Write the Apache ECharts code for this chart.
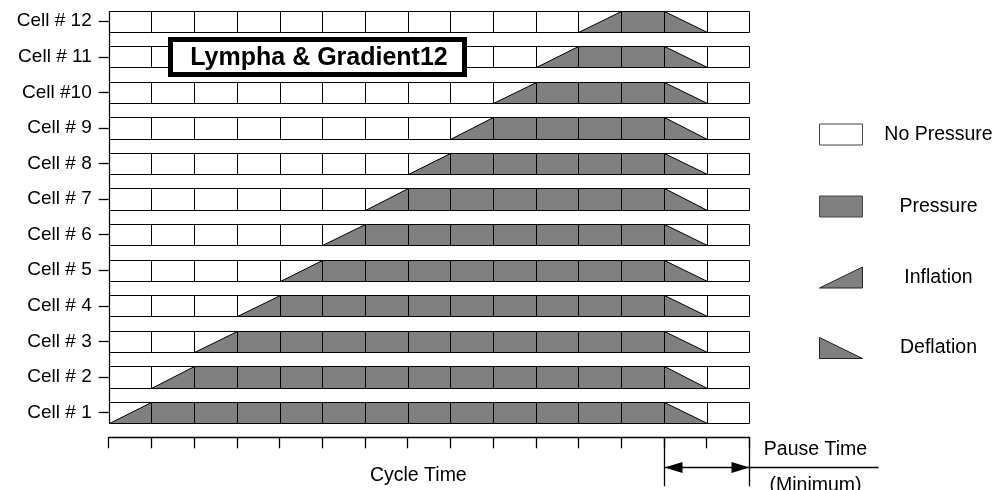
<!DOCTYPE html>
<html>
<head>
<meta charset="utf-8">
<script src="https://cdn.jsdelivr.net/npm/echarts@6/dist/echarts.min.js"></script>
<style>html,body{margin:0;padding:0;background:#fff}#c{width:997px;height:490px}</style>
</head>
<body>
<div id="c"></div>
<script>
// ---- data ----
const cells = ['Cell # 1','Cell # 2','Cell # 3','Cell # 4','Cell # 5','Cell # 6','Cell # 7','Cell # 8','Cell # 9','Cell #10','Cell # 11','Cell # 12'];
const slotCount = 15;                                     // time slots per row
const inflationSlot = [0,1,2,3,4,5,6,7,8,9,10,11];        // slot where each cell inflates
const deflationSlot = [13,13,13,13,13,13,13,13,13,13,13,13]; // slot where each cell deflates
const legendNames = ['No Pressure','Pressure','Inflation','Deflation'];
const titleText = 'Lympha & Gradient12';
const axisTexts = { cycle: 'Cycle Time', pause: 'Pause Time', min: '(Minimum)' };
const pauseStart = 13, pauseEnd = 15;

// states: 0 none, 1 pressure, 2 inflation, 3 deflation
const boxes = [];
for (let r = 0; r < cells.length; r++) {
  for (let c = 0; c < slotCount; c++) {
    let s = 0;
    if (c === inflationSlot[r]) s = 2;
    else if (c > inflationSlot[r] && c < deflationSlot[r]) s = 1;
    else if (c === deflationSlot[r]) s = 3;
    boxes.push([c, r, s]);
  }
}

const FONT = 'Liberation Sans, Arial, Helvetica, sans-serif';
const GRAY = '#808080';
const px = v => Math.round(v) + 0.5;

function renderBox(params, api) {
  const c = api.value(0), r = api.value(1), s = api.value(2);
  const a = api.coord([c, r]), b = api.coord([c + 1, r]);
  const h = api.size([0, 1])[1] * 0.6;
  const x0 = px(a[0]), x1 = px(b[0]);
  const y0 = px(a[1] - h / 2), y1 = px(a[1] + h / 2);
  const children = [{
    type: 'rect', shape: { x: x0, y: y0, width: x1 - x0, height: y1 - y0 },
    style: { fill: s === 1 ? GRAY : '#fff', stroke: null }
  }];
  if (s === 2) children.push({ type: 'polygon', shape: { points: [[x0, y1], [x1, y0], [x1, y1]] }, style: { fill: GRAY, stroke: '#000', lineWidth: 1 } });
  if (s === 3) children.push({ type: 'polygon', shape: { points: [[x0, y0], [x0, y1], [x1, y1]] }, style: { fill: GRAY, stroke: '#000', lineWidth: 1 } });
  children.push({ type: 'rect', shape: { x: x0, y: y0, width: x1 - x0, height: y1 - y0 }, style: { fill: null, stroke: '#000', lineWidth: 1 } });
  return { type: 'group', children };
}

function renderFrame(params, api) {
  const h = api.size([0, 1])[1] * 0.6;
  const top = api.coord([0, cells.length - 1]);
  const bot = api.coord([0, 0]);
  const x = px(top[0]);
  return { type: 'line', shape: { x1: x, y1: px(top[1] - h / 2), x2: x, y2: px(bot[1] + h / 2) }, style: { stroke: '#000', lineWidth: 1.2 } };
}

function renderAnnot(params, api) {
  const band = api.size([0, 1])[1];
  const yA = api.coord([0, 0])[1] + band / 2 + 7;
  const xs = px(api.coord([pauseStart, 0])[0]);
  const xe = px(api.coord([pauseEnd, 0])[0]);
  const xc = api.coord([7.25, 0])[0];
  const ya = px(yA + 30);
  const st = { stroke: '#000', lineWidth: 1.3 };
  return { type: 'group', children: [
    { type: 'line', shape: { x1: xs, y1: yA, x2: xs, y2: yA + 49 }, style: st },
    { type: 'line', shape: { x1: xe, y1: yA, x2: xe, y2: yA + 49 }, style: st },
    { type: 'line', shape: { x1: xs, y1: ya, x2: xe + 129, y2: ya }, style: st },
    { type: 'polygon', shape: { points: [[xs, ya], [xs + 18, ya - 5.5], [xs + 18, ya + 5.5]] }, style: { fill: '#000' } },
    { type: 'polygon', shape: { points: [[xe, ya], [xe - 18, ya - 5.5], [xe - 18, ya + 5.5]] }, style: { fill: '#000' } },
    { type: 'text', style: { x: xc, y: yA + 38, text: axisTexts.cycle, align: 'center', verticalAlign: 'middle', fontSize: 19.5, fontFamily: FONT, fill: '#000' } },
    { type: 'text', style: { x: xe + 66, y: yA + 12, text: axisTexts.pause, align: 'center', verticalAlign: 'middle', fontSize: 19.5, fontFamily: FONT, fill: '#000' } },
    { type: 'text', style: { x: xe + 66, y: yA + 48.5, text: axisTexts.min, align: 'center', verticalAlign: 'middle', fontSize: 19.5, fontFamily: FONT, fill: '#000' } }
  ]};
}

// legend graphics (static key)
const legendY = [134.5, 206.5, 277.5, 348];
const legendGraphics = [];
legendNames.forEach((name, i) => {
  const y = legendY[i], x0 = 819.5, x1 = 862.5, t = y - 10.5, b = y + 10.5;
  let shape;
  if (i === 0) shape = { type: 'rect', shape: { x: x0, y: t, width: x1 - x0, height: b - t }, style: { fill: '#fff', stroke: '#444', lineWidth: 1 } };
  else if (i === 1) shape = { type: 'rect', shape: { x: x0, y: t, width: x1 - x0, height: b - t }, style: { fill: GRAY, stroke: '#444', lineWidth: 1 } };
  else if (i === 2) shape = { type: 'polygon', shape: { points: [[x0, b], [x1, t], [x1, b]] }, style: { fill: GRAY, stroke: '#222', lineWidth: 1 } };
  else shape = { type: 'polygon', shape: { points: [[x0, t], [x0, b], [x1, b]] }, style: { fill: GRAY, stroke: '#222', lineWidth: 1 } };
  legendGraphics.push(shape);
  legendGraphics.push({ type: 'text', style: { x: 938.5, y: y, text: name, align: 'center', verticalAlign: 'middle', fontSize: 19.5, fontFamily: FONT, fill: '#000' } });
});

const chart = echarts.init(document.getElementById('c'), null, { renderer: 'canvas' });
chart.setOption({
  animation: false,
  backgroundColor: '#fff',
  grid: { left: 108.7, right: 247.7, top: 3.47, bottom: 59.7, containLabel: false },
  xAxis: {
    type: 'value', min: 0, max: slotCount, interval: 1, position: 'bottom', offset: 7,
    axisLine: { show: true, lineStyle: { color: '#000', width: 1.3 } },
    axisTick: { show: true, length: 11, lineStyle: { color: '#000', width: 1.3 } },
    axisLabel: { show: false }, splitLine: { show: false }
  },
  yAxis: {
    type: 'category', data: cells, boundaryGap: true,
    axisLine: { show: false },
    axisTick: { show: true, alignWithLabel: true, length: 10, lineStyle: { color: '#000', width: 1.3 } },
    axisLabel: { color: '#000', fontSize: 19, fontFamily: FONT, margin: 17 },
    splitLine: { show: false }
  },
  series: [
    { type: 'custom', name: 'cells', data: boxes, renderItem: renderBox, encode: { x: 0, y: 1 }, z: 2 },
    { type: 'custom', name: 'frame', data: [[0, 0]], renderItem: renderFrame, z: 3 },
    { type: 'custom', name: 'annot', data: [[0, 0]], renderItem: renderAnnot, z: 3 }
  ],
  graphic: [
    { type: 'rect', z: 100, shape: { x: 170.5, y: 39.5, width: 294, height: 35 }, style: { fill: '#fff', stroke: '#000', lineWidth: 5 } },
    { type: 'text', z: 101, style: { x: 319, y: 58, text: titleText, align: 'center', verticalAlign: 'middle', fontSize: 25, fontWeight: 'bold', fontFamily: FONT, fill: '#000' } },
    { type: 'group', z: 100, children: legendGraphics }
  ]
});
</script>
</body>
</html>
